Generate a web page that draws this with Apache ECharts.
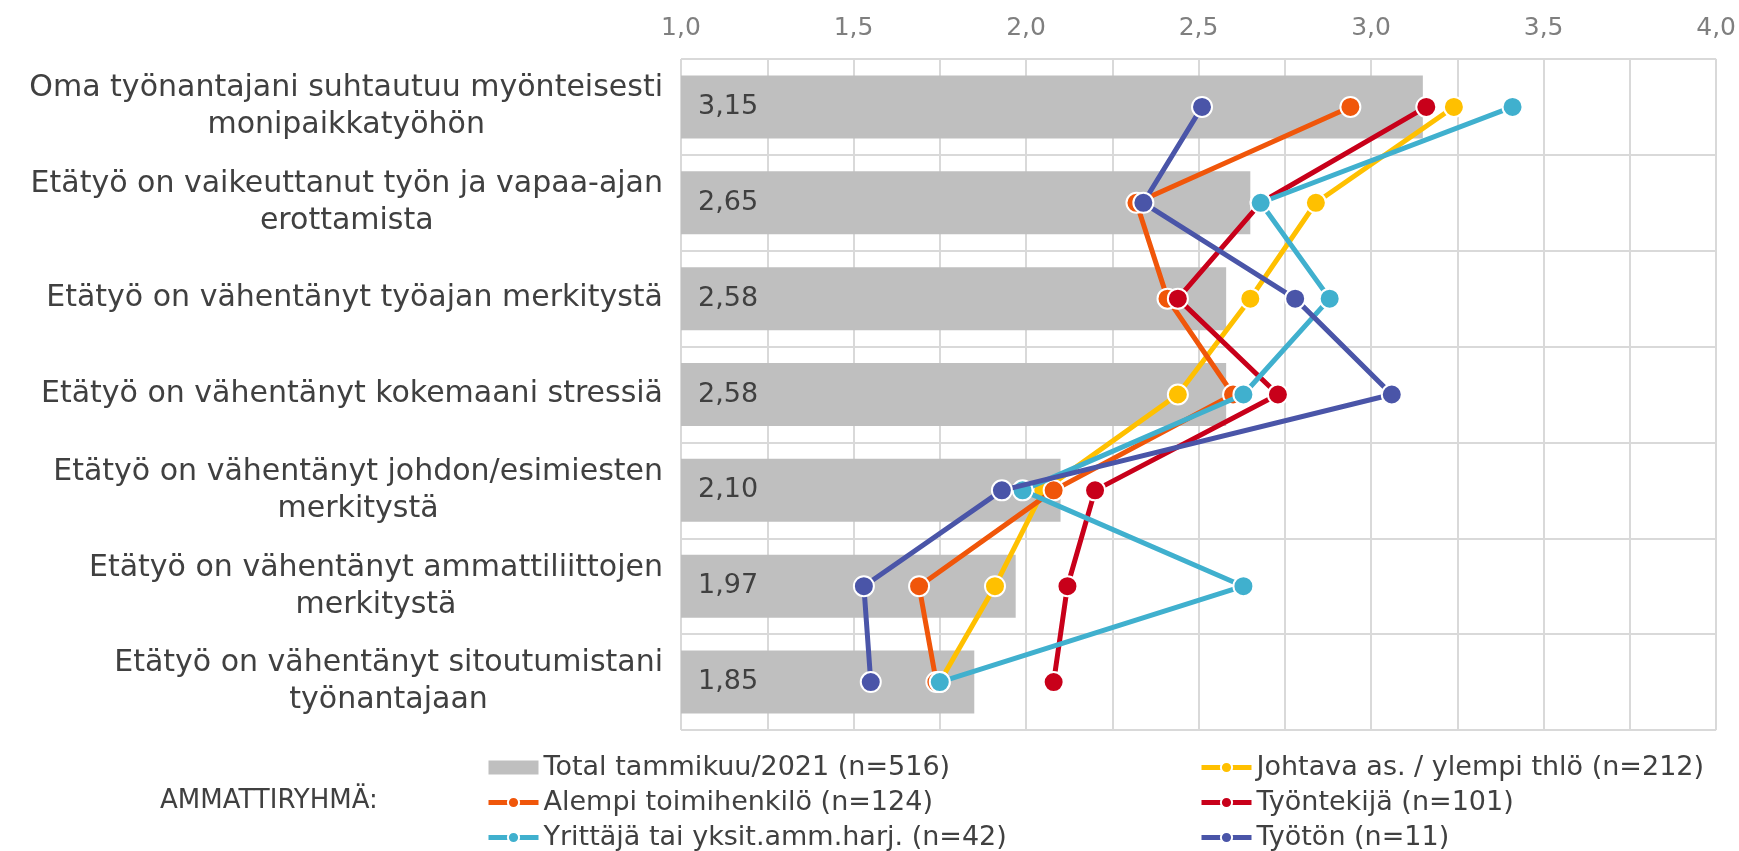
<!DOCTYPE html>
<html lang="fi">
<head>
    <meta charset="UTF-8">
    <title>Etätyö - ammattiryhmä</title>
    <script src="https://cdn.jsdelivr.net/npm/echarts@6.0.0/dist/echarts.min.js"></script>
    <style>
        html, body { margin: 0; padding: 0; background: #ffffff; }
        #chart { width: 1739px; height: 851px; }
    </style>
</head>
<body>
    <div id="chart"></div>
    <script>
        // väittämät (ylhäältä alas)
        const categories = [
            'Oma työnantajani suhtautuu myönteisesti\nmonipaikkatyöhön',
            'Etätyö on vaikeuttanut työn ja vapaa-ajan\nerottamista',
            'Etätyö on vähentänyt työajan merkitystä',
            'Etätyö on vähentänyt kokemaani stressiä',
            'Etätyö on vähentänyt johdon/esimiesten\nmerkitystä',
            'Etätyö on vähentänyt ammattiliittojen\nmerkitystä',
            'Etätyö on vähentänyt sitoutumistani\ntyönantajaan'
        ];

        const totalValues = [3.15, 2.65, 2.58, 2.58, 2.10, 1.97, 1.85];
        const johtavaValues = [3.24, 2.84, 2.65, 2.44, 2.05, 1.91, 1.75];
        const alempiValues = [2.94, 2.32, 2.41, 2.60, 2.08, 1.69, 1.74];
        const tyontekijaValues = [3.16, 2.68, 2.44, 2.73, 2.20, 2.12, 2.08];
        const yrittajaValues = [3.41, 2.68, 2.88, 2.63, 1.99, 2.63, 1.75];
        const tyotonValues = [2.51, 2.34, 2.78, 3.06, 1.93, 1.53, 1.55];

        const seriesNames = [
            'Total tammikuu/2021 (n=516)',
            'Johtava as. / ylempi thlö (n=212)',
            'Alempi toimihenkilö (n=124)',
            'Työntekijä (n=101)',
            'Yrittäjä tai yksit.amm.harj. (n=42)',
            'Työtön (n=11)'
        ];
        const lineColors = ['#FFC000', '#F0560A', '#C8001A', '#40B0CE', '#4A55A8'];
        const lineData = [johtavaValues, alempiValues, tyontekijaValues, yrittajaValues, tyotonValues];

        const font = 'DejaVu Sans';
        const textColor = '#404040';
        const gridColor = '#D9D9D9';

        const fmt = (v, d) => v.toFixed(d).replace('.', ',');

        const chart = echarts.init(document.getElementById('chart'), null, { renderer: 'canvas' });

        const lineSeries = lineData.map((values, i) => ({
            name: seriesNames[i + 1],
            type: 'line',
            data: values,
            symbol: 'circle',
            symbolSize: 20,
            z: 3 + i,
            lineStyle: { width: 5, color: lineColors[i] },
            itemStyle: { color: lineColors[i], borderColor: '#ffffff', borderWidth: 2 }
        }));

        const legendBase = {
            orient: 'vertical',
            top: 754,
            height: 120,
            padding: 0,
            itemWidth: 50,
            itemHeight: 14,
            itemGap: 8,
            lineStyle: { width: 5 },
            textStyle: { fontSize: 27, lineHeight: 22, color: textColor, fontFamily: font }
        };

        const option = {
            animation: false,
            backgroundColor: '#ffffff',
            textStyle: { fontFamily: font },
            grid: { left: 681, right: 22, top: 59, bottom: 121 },
            xAxis: {
                type: 'value',
                position: 'top',
                min: 1,
                max: 4,
                interval: 0.25,
                startValue: 1,
                axisLine: { show: false },
                axisTick: { show: false },
                axisLabel: {
                    margin: 18,
                    fontSize: 25,
                    color: '#7F7F7F',
                    fontFamily: font,
                    formatter: v => (Math.round(v * 4) % 2 === 0 ? fmt(v, 1) : '')
                },
                splitLine: { lineStyle: { color: gridColor, width: 2 } }
            },
            yAxis: {
                type: 'category',
                inverse: true,
                data: categories,
                axisLine: { show: false },
                axisTick: { show: false },
                splitLine: { show: true, lineStyle: { color: gridColor, width: 2 } },
                axisLabel: {
                    margin: 18,
                    fontSize: 30,
                    lineHeight: 37,
                    color: textColor,
                    fontFamily: font,
                    formatter: v => v.split('\n').map(s => '{c|' + s + '}').join('\n'),
                    rich: {
                        c: { align: 'center', fontSize: 30, lineHeight: 37, color: textColor, fontFamily: font }
                    }
                }
            },
            legend: [
                Object.assign({}, legendBase, {
                    left: 486,
                    data: [
                        { name: seriesNames[0], icon: 'rect' },
                        seriesNames[2],
                        seriesNames[4]
                    ]
                }),
                Object.assign({}, legendBase, {
                    left: 1199,
                    data: [seriesNames[1], seriesNames[3], seriesNames[5]]
                })
            ],
            graphic: [{
                type: 'text',
                left: 160,
                top: 788,
                style: { text: 'AMMATTIRYHMÄ:', fontSize: 26, fill: textColor, fontFamily: font }
            }],
            series: [{
                name: seriesNames[0],
                type: 'bar',
                data: totalValues,
                barWidth: 63,
                z: 2,
                itemStyle: { color: '#BFBFBF' },
                label: {
                    show: true,
                    position: 'insideLeft',
                    distance: 17,
                    fontSize: 27,
                    color: textColor,
                    fontFamily: font,
                    formatter: p => fmt(p.value, 2)
                }
            }].concat(lineSeries)
        };

        chart.setOption(option);
        window.addEventListener('resize', () => chart.resize());
    </script>
</body>
</html>
